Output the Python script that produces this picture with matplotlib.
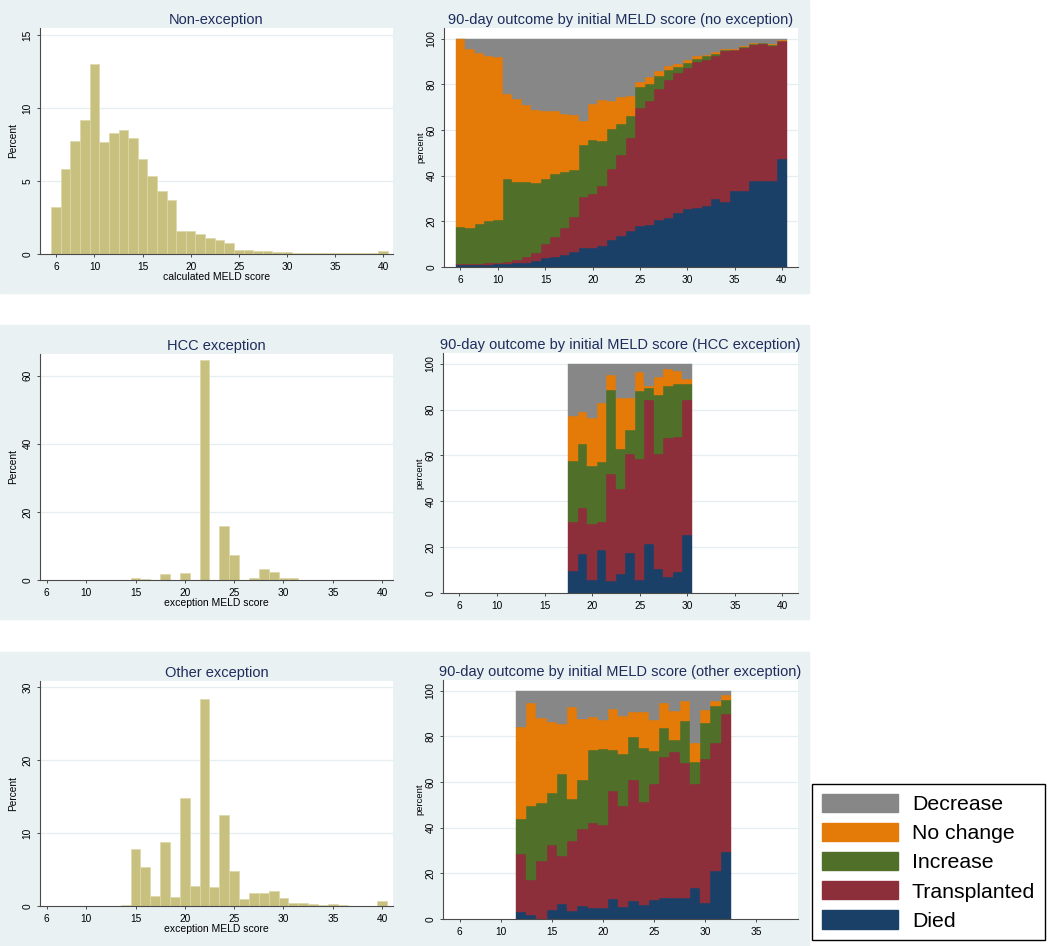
import matplotlib
matplotlib.use("Agg")
import matplotlib.pyplot as plt
from matplotlib.patches import Rectangle, Patch

plt.rcParams['font.family'] = ['Liberation Sans', 'DejaVu Sans']

W, H = 1050, 946

# ---------------- data ----------------
scores = list(range(6, 41))

# histograms, percent of listings at each initial MELD score 6..40
noexc_pct = [3.24, 5.82, 7.74, 9.2, 12.99, 7.69, 8.31, 8.49, 7.92, 6.51, 5.37, 4.34,
             3.70, 1.55, 1.58, 1.39, 1.12, 0.94, 0.75, 0.27, 0.25, 0.2, 0.18, 0.15,
             0.13, 0.1, 0.1, 0.08, 0.06, 0.05, 0.05, 0.04, 0.04, 0.04, 0.2]
hcc_pct = [0, 0.05, 0.05, 0.05, 0.05, 0.05, 0.1, 0.1, 0.1, 0.45, 0.2, 0.1, 1.85, 0,
           2.15, 0, 64.5, 0, 15.8, 7.45, 0, 0.7, 3.1, 2.45, 0.45, 0.6, 0.1, 0.05,
           0.05, 0.05, 0.05, 0.05, 0.05, 0.05, 0.05]
oth_pct = [0, 0.03, 0.03, 0.03, 0.03, 0.05, 0.05, 0.05, 0.1, 7.75, 5.29, 1.37, 8.71,
           1.19, 14.77, 2.78, 28.27, 2.64, 12.4, 4.74, 0.96, 1.73, 1.78, 2.05, 1.09,
           0.46, 0.41, 0.32, 0.18, 0.23, 0.09, 0.05, 0.05, 0.05, 0.73]

# 90-day outcome shares (percent), no exception, scores 6..40
noexc_died = [0.7, 0.7, 0.9, 1.0, 1.2, 1.3, 1.6, 1.9, 2.5, 3.9, 4.4, 5.4, 6.4, 8.3, 8.3,
              9.3, 12.0, 13.4, 15.9, 18.1, 18.5, 20.7, 21.5, 23.6, 25.4, 25.8, 26.6,
              29.9, 28.3, 33.1, 33.4, 37.8, 37.8, 37.8, 47.2]
noexc_trans = [0.6, 0.6, 0.6, 0.6, 0.6, 1.0, 1.3, 2.5, 3.6, 6.2, 8.7, 11.5, 15.5, 22.2,
               23.7, 26.0, 30.9, 35.5, 40.5, 51.5, 54.3, 57.3, 60.3, 61.4, 61.8, 63.8,
               63.9, 62.4, 66.2, 61.8, 62.5, 59.3, 59.9, 59.1, 51.8]
noexc_incr = [16.2, 15.9, 17.5, 18.4, 18.9, 36.2, 34.5, 32.8, 30.7, 28.6, 27.6, 24.9,
              20.7, 22.8, 23.5, 19.9, 17.5, 13.7, 9.9, 9.1, 7.3, 5.5, 4.3, 2.6, 2.1,
              1.6, 1.8, 1.0, 0.4, 0.3, 0.3, 0.6, 0.3, 0.3, 0.1]
noexc_noch = [82.5, 78.4, 74.7, 72.3, 71.1, 37.3, 36.2, 33.7, 32.1, 29.5, 27.5, 25.4,
              24.0, 10.6, 15.9, 18.1, 12.4, 11.7, 8.7, 2.5, 3.0, 2.5, 2.1, 1.5, 1.2,
              1.1, 0.7, 0.7, 0.6, 0.3, 0.5, 0.4, 0.2, 0.5, 0.3]
noexc_decr = [0.0, 4.4, 6.3, 7.7, 8.2, 24.2, 26.4, 29.1, 31.1, 31.8, 31.8, 32.8, 33.4,
              36.1, 28.6, 26.7, 27.2, 25.7, 25.0, 18.8, 16.9, 14.0, 11.8, 10.9, 9.5,
              7.7, 7.0, 6.0, 4.5, 4.5, 3.3, 1.9, 1.8, 2.3, 0.6]

# HCC exception, scores 18..30
hcc_scores = list(range(18, 31))
hcc_died = [9.5, 17.1, 5.8, 18.8, 5.4, 8.5, 17.6, 5.8, 21.4, 10.6, 7.0, 9.2, 25.1]
hcc_trans = [21.3, 19.8, 24.4, 12.0, 46.5, 36.8, 43.0, 52.7, 62.7, 50.0, 60.5, 58.9, 59.0]
hcc_incr = [26.9, 28.3, 25.2, 26.5, 36.7, 17.5, 10.5, 29.5, 5.3, 25.8, 22.9, 23.0, 7.0]
hcc_noch = [19.3, 13.7, 20.8, 25.8, 6.3, 22.2, 13.9, 8.4, 1.1, 7.8, 7.4, 5.8, 2.3]
hcc_decr = [23.0, 21.1, 23.8, 16.9, 5.1, 15.0, 15.0, 3.6, 9.5, 5.8, 2.2, 3.1, 6.6]

# other exception, scores 12..32
oth_scores = list(range(12, 33))
oth_died = [3.2, 1.7, 0.0, 3.9, 6.4, 3.5, 5.7, 4.7, 4.7, 8.7, 5.1, 7.9, 6.3, 8.2, 9.0,
            9.0, 9.0, 13.7, 6.8, 21.1, 29.4]
oth_trans = [25.2, 15.3, 25.3, 28.7, 21.3, 30.7, 33.6, 37.5, 36.3, 47.2, 44.4, 53.2,
             44.8, 51.0, 61.9, 64.1, 59.4, 45.4, 63.4, 56.0, 60.4]
oth_incr = [15.3, 32.3, 25.5, 22.6, 35.9, 18.2, 21.4, 31.7, 33.5, 18.2, 22.8, 18.8,
            23.9, 14.3, 12.8, 5.5, 18.5, 9.6, 15.7, 16.3, 6.1]
oth_noch = [40.6, 45.3, 37.1, 31.3, 21.8, 40.6, 26.8, 14.6, 12.5, 18.0, 16.6, 10.6,
            15.7, 13.8, 10.9, 12.4, 8.4, 8.4, 5.8, 2.2, 2.2]
oth_decr = [15.7, 5.4, 12.1, 13.5, 14.6, 7.0, 12.5, 11.5, 13.0, 7.9, 11.1, 9.5, 9.3,
            12.7, 5.4, 9.0, 4.7, 22.9, 8.3, 4.4, 1.9]

outcome_labels = ['Decrease', 'No change', 'Increase', 'Transplanted', 'Died']
outcome_colors = ['#878787', '#e47a08', '#50702a', '#8d2e3b', '#1b4068']

hist_color = '#c8c07e'
bg_color = '#e9f1f2'
title_color = '#1e2c5c'
axis_color = '#4a4a4a'
grid_color = '#e6eef0'


def px_box(x0, y0, x1, y1):
    # pixel box (top-left origin) -> figure fraction rect
    return [x0 / W, 1 - y1 / H, (x1 - x0) / W, (y1 - y0) / H]


def style_axes(ax, yticks, ylabel, xticks, xlabel=None):
    for s in ['top', 'right']:
        ax.spines[s].set_visible(False)
    for s in ['left', 'bottom']:
        ax.spines[s].set_color(axis_color)
        ax.spines[s].set_linewidth(0.8)
    ax.set_yticks(yticks)
    ax.set_yticklabels([str(t) for t in yticks], rotation=90, va='center', fontsize=7.3)
    ax.set_xticks(xticks)
    ax.set_xticklabels([str(t) for t in xticks], fontsize=7.3)
    ax.tick_params(direction='out', length=2.5, width=0.7, color=axis_color, pad=3)
    for t in yticks[1:]:
        ax.axhline(t, color=grid_color, lw=0.9, zorder=0)
    ax.set_ylabel(ylabel, fontsize=7.3, labelpad=3)
    if xlabel:
        ax.set_xlabel(xlabel, fontsize=7.5, labelpad=0.3)


def hist_panel(rect, title, pct, xlim, ylim, yticks, xlabel):
    ax = fig.add_axes(rect)
    ax.bar(scores, pct, width=1.0, color=hist_color, edgecolor='#ddd7a8',
           linewidth=0.5, zorder=2)
    ax.set_xlim(*xlim)
    ax.set_ylim(*ylim)
    style_axes(ax, yticks, 'Percent', [6, 10, 15, 20, 25, 30, 35, 40], xlabel)
    ax.set_title(title, fontsize=10.5, color=title_color, pad=3)
    return ax


def stack_panel(rect, title, xs, series, xlim, xticks):
    ax = fig.add_axes(rect)
    # bottom to top: died, transplanted, increase, no change, decrease
    bottom = [0.0] * len(xs)
    for vals, col in zip(series, outcome_colors[::-1]):
        ax.bar(xs, vals, bottom=bottom, width=1.0, color=col, edgecolor=col,
               linewidth=0.3, zorder=2)
        bottom = [b + v for b, v in zip(bottom, vals)]
    ax.set_xlim(*xlim)
    ax.set_ylim(0, 104.7)
    style_axes(ax, [0, 20, 40, 60, 80, 100], 'percent', xticks)
    ax.yaxis.label.set_size(6.8)
    ax.yaxis.labelpad = 1
    ax.set_title(title, fontsize=10.5, color=title_color, pad=3)
    return ax


fig = plt.figure(figsize=(W / 100, H / 100), dpi=100)
fig.patch.set_facecolor('white')

# light panel backgrounds for the three rows
for y0, y1 in [(0, 293), (325, 619), (652, 946)]:
    fig.patches.append(Rectangle((0, 1 - y1 / H), 809 / W, (y1 - y0) / H,
                                 transform=fig.transFigure, color=bg_color, zorder=-10))

hist_panel(px_box(40, 28, 393, 254), 'Non-exception', noexc_pct,
           (4.34, 41.03), (0, 15.48), [0, 5, 10, 15], 'calculated MELD score')
hist_panel(px_box(40, 354, 393, 580), 'HCC exception', hcc_pct,
           (5.32, 41.1), (0, 66.4), [0, 20, 40, 60], 'exception MELD score')
hist_panel(px_box(40, 681, 393, 906), 'Other exception', oth_pct,
           (5.32, 41.1), (0, 30.8), [0, 10, 20, 30], 'exception MELD score')

stack_panel(px_box(444, 28, 798, 267), '90-day outcome by initial MELD score (no exception)',
            scores, [noexc_died, noexc_trans, noexc_incr, noexc_noch, noexc_decr],
            (4.27, 41.7), [6, 10, 15, 20, 25, 30, 35, 40])
stack_panel(px_box(443, 353, 798, 593), '90-day outcome by initial MELD score (HCC exception)',
            hcc_scores, [hcc_died, hcc_trans, hcc_incr, hcc_noch, hcc_decr],
            (4.32, 41.65), [6, 10, 15, 20, 25, 30, 35, 40])
stack_panel(px_box(443, 680, 798, 919), '90-day outcome by initial MELD score (other exception)',
            oth_scores, [oth_died, oth_trans, oth_incr, oth_noch, oth_decr],
            (4.37, 39.07), [6, 10, 15, 20, 25, 30, 35])

# legend box in the lower right
handles = [Patch(facecolor=c, edgecolor=c) for c in outcome_colors]
leg = fig.legend(handles, outcome_labels, loc='upper left',
                 bbox_to_anchor=(812 / W, 1 - 784 / H), borderaxespad=0,
                 fontsize=15.3, handlelength=3.6, handleheight=0.95,
                 handletextpad=0.65, labelspacing=0.41, borderpad=0.45,
                 frameon=True, fancybox=False, framealpha=1, edgecolor='black')
leg.get_frame().set_linewidth(1.0)

plt.savefig('out.png', dpi=100, facecolor='white')
